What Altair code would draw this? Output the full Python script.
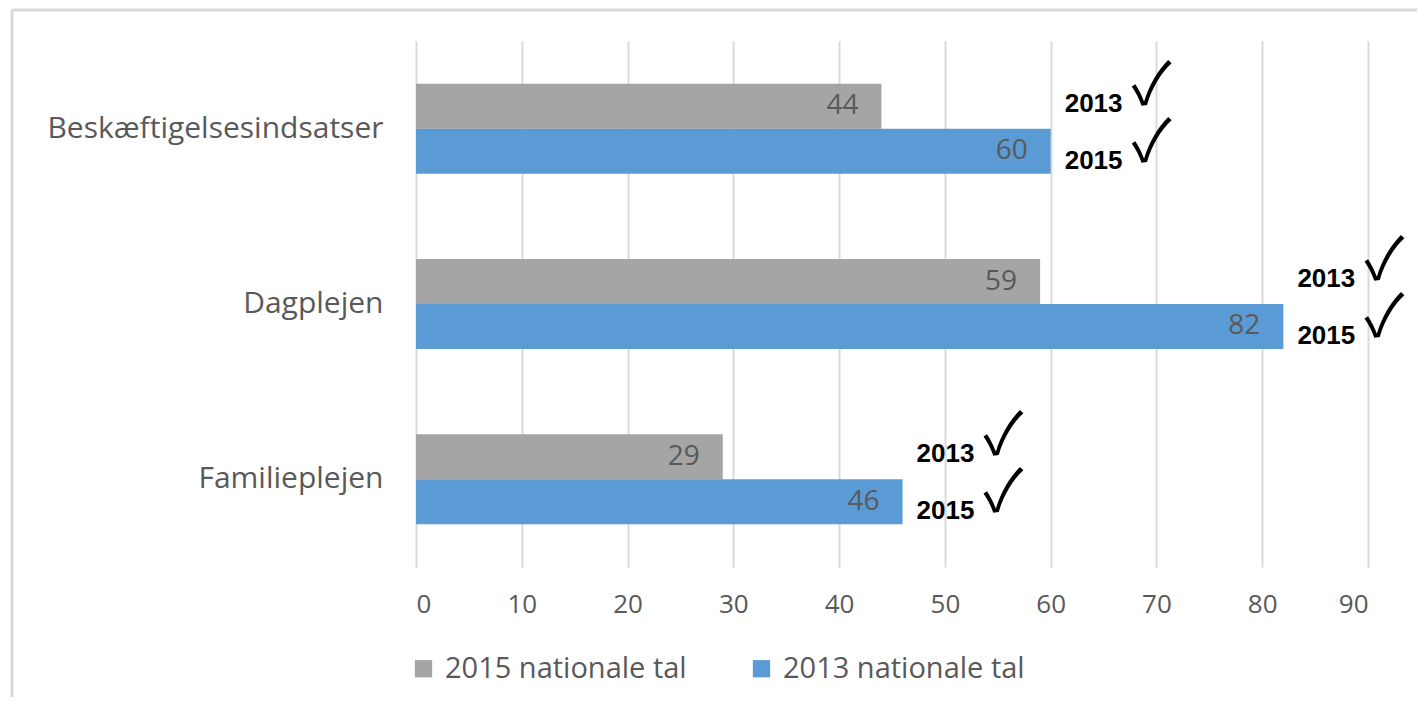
import altair as alt
import pandas as pd

categories = ["Beskæftigelsesindsatser", "Dagplejen", "Familieplejen"]
series = ["2015 nationale tal", "2013 nationale tal"]
vals_2015 = [44, 59, 29]
vals_2013 = [60, 82, 46]
ticks = [0, 10, 20, 30, 40, 50, 60, 70, 80, 90]
note_years = ["2013", "2015"]
colors = ["#a5a5a5", "#5b9bd5"]

rows = []
for c, a, b in zip(categories, vals_2015, vals_2013):
    rows.append({"category": c, "series": series[0], "value": a})
    rows.append({"category": c, "series": series[1], "value": b})
df = pd.DataFrame(rows)
notes = pd.DataFrame({"category": categories, "value": vals_2013})

FONT = "Open Sans"
yscale = alt.Scale(domain=categories, paddingInner=0.487, paddingOuter=0.2435)
xscale = alt.Scale(domain=[0, 90], nice=False)

base = alt.Chart(df)
bars = base.mark_bar(size=45).encode(
    x=alt.X("value:Q", scale=xscale,
            axis=alt.Axis(values=ticks, grid=True, domain=False, ticks=False,
                          labelFontSize=26, labelColor="#595959", labelFont=FONT,
                          labelPadding=24, gridColor="#d9d9d9", gridWidth=2, title=None)),
    y=alt.Y("category:N", scale=yscale,
            axis=alt.Axis(domain=False, ticks=False, grid=False, labelFontSize=30,
                          labelColor="#595959", labelFont=FONT, labelPadding=33,
                          title=None, labelLimit=600)),
    yOffset=alt.YOffset("series:N", sort=series),
    color=alt.Color("series:N", sort=series,
                    scale=alt.Scale(domain=series, range=colors),
                    legend=alt.Legend(orient="none", legendX=-7, legendY=613, direction="horizontal",
                                      title=None, symbolType="square", symbolSize=300,
                                      symbolStrokeWidth=0, labelFontSize=29, labelFont=FONT,
                                      labelColor="#595959", labelOffset=7, columnPadding=60,
                                      labelLimit=500)),
)
vlabels = base.mark_text(align="right", baseline="middle", dx=-23, fontSize=28,
                         font=FONT, color="#595959").encode(
    x=alt.X("value:Q", scale=xscale),
    y=alt.Y("category:N", scale=yscale),
    yOffset=alt.YOffset("series:N", sort=series),
    text=alt.Text("value:Q"),
)

nbase = alt.Chart(notes)
layers = [bars, vlabels]
for yr, dy in zip(note_years, [-17, 40]):
    layers.append(nbase.mark_text(align="left", baseline="alphabetic", dx=14, dy=dy,
                                  fontSize=26, font="Liberation Sans", fontWeight="bold",
                                  color="#000000").encode(
        x=alt.X("value:Q", scale=xscale), y=alt.Y("category:N", scale=yscale),
        text=alt.value(yr)))
    layers.append(nbase.mark_text(align="left", baseline="alphabetic", dx=81, dy=dy - 8,
                                  fontSize=58, font="Noto Sans CJK JP",
                                  color="#000000").encode(
        x=alt.X("value:Q", scale=xscale), y=alt.Y("category:N", scale=yscale),
        text=alt.value("✓")))

frame = alt.Chart(alt.Data(values=[{"a": 1}]))
top_line = frame.mark_rule(color="#d9d9d9", strokeWidth=3).encode(
    x=alt.value(-404), x2=alt.value(1010), y=alt.value(-31))
left_line = frame.mark_rule(color="#d9d9d9", strokeWidth=3).encode(
    x=alt.value(-404), y=alt.value(-31), y2=alt.value(680))
layers += [top_line, left_line]

chart = alt.layer(*layers).properties(
    width=952, height=526,
    autosize=alt.AutoSizeParams(type="none"),
    padding={"left": 408, "top": 33, "right": 49, "bottom": 130},
).configure(background="white", view=alt.ViewConfig(stroke=None))

chart.save("out.html", embed_options={"renderer": "svg", "actions": False})
